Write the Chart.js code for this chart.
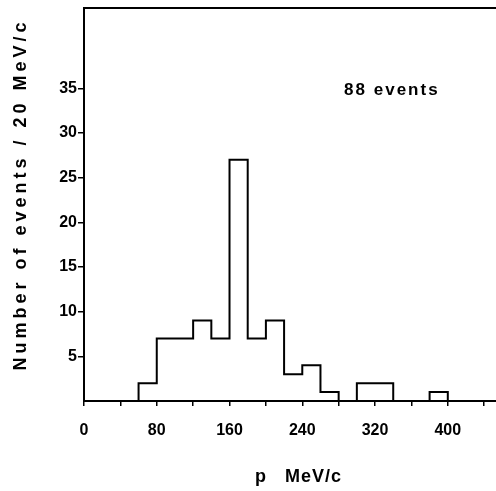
<!DOCTYPE html>
<html lang="en">
<head>
    <meta charset="UTF-8">
    <title>Momentum spectrum</title>
    <script src="https://cdn.jsdelivr.net/npm/chart.js"></script>
    <style>
        body { margin: 0; background: #fff; }
        canvas { display: block; }
    </style>
</head>
<body>
    <canvas id="histChart" width="496" height="491"></canvas>

    <script>
        // histogram: 20 MeV/c bins, left edge of each bin
        const binStarts = [60, 80, 100, 120, 140, 160, 180, 200, 220, 240, 260, 280, 300, 320, 340, 360, 380];
        const counts    = [2, 7, 7, 9, 7, 27, 7, 9, 3, 4, 1, 0, 2, 2, 0, 0, 1];
        const binWidth = 20;

        const xTickValues  = [0, 40, 80, 120, 160, 200, 240, 280, 320, 360, 400, 440];
        const xLabelValues = [0, 80, 160, 240, 320, 400];
        const yTickValues  = [5, 10, 15, 20, 25, 30, 35];

        const yTitle = 'Number of events / 20 MeV/c';
        const xTitle = 'p   MeV/c';
        const note = '88 events';

        const FONT = "'Liberation Sans', Arial, sans-serif";

        // outline points for the stepped line
        const points = [{ x: binStarts[0], y: 0 }];
        binStarts.forEach((x, i) => points.push({ x: x, y: counts[i] }));
        points.push({ x: binStarts[binStarts.length - 1] + binWidth, y: 0 });

        // extra texts drawn with letter spacing
        const textPlugin = {
            id: 'texts',
            afterDraw(chart) {
                const ctx = chart.ctx;
                const xs = chart.scales.x, ys = chart.scales.y;
                const area = chart.chartArea;
                ctx.save();
                ctx.fillStyle = '#000';

                // y title
                ctx.font = 'bold 18px ' + FONT;
                ctx.letterSpacing = '4px';
                ctx.textAlign = 'center';
                ctx.textBaseline = 'middle';
                ctx.save();
                ctx.translate(21, (area.top + area.bottom) / 2 - 10);
                ctx.rotate(-Math.PI / 2);
                ctx.fillText(yTitle, 0, 0);
                ctx.restore();

                // x title
                ctx.letterSpacing = '1px';
                ctx.textAlign = 'left';
                ctx.fillText(xTitle, xs.getPixelForValue(188), 477);

                // event count
                ctx.font = 'bold 17px ' + FONT;
                ctx.letterSpacing = '2px';
                ctx.fillText(note, xs.getPixelForValue(286), ys.getPixelForValue(34.8));
                ctx.restore();
            }
        };

        new Chart(document.getElementById('histChart').getContext('2d'), {
            type: 'line',
            data: {
                datasets: [{
                    data: points,
                    stepped: 'before',
                    borderColor: '#000',
                    borderWidth: 2,
                    pointRadius: 0,
                    fill: false
                }]
            },
            options: {
                responsive: false,
                animation: false,
                layout: { padding: { top: 8, right: 0, left: 0, bottom: 0 } },
                plugins: { legend: { display: false }, tooltip: { enabled: false } },
                scales: {
                    x: {
                        type: 'linear',
                        min: 0,
                        max: 453,
                        afterBuildTicks: s => { s.ticks = xTickValues.map(v => ({ value: v })); },
                        afterFit: s => { s.height = 90; s.paddingRight = 0; },
                        border: { color: '#000', width: 2 },
                        grid: { drawOnChartArea: false, color: '#000', lineWidth: 1.5, tickLength: 5 },
                        ticks: {
                            color: '#000',
                            padding: 15,
                            maxRotation: 0,
                            autoSkip: false,
                            font: { family: FONT, size: 16, weight: 'bold' },
                            callback: v => xLabelValues.includes(v) ? String(v) : ''
                        }
                    },
                    x2: {
                        type: 'linear',
                        position: 'top',
                        min: 0,
                        max: 453,
                        afterFit: s => { s.height = 0; },
                        border: { color: '#000', width: 2 },
                        grid: { display: false },
                        ticks: { display: false }
                    },
                    y: {
                        min: 0,
                        max: 44,
                        afterBuildTicks: s => { s.ticks = yTickValues.map(v => ({ value: v })); },
                        afterFit: s => { s.width = 84; s.paddingTop = 0; s.paddingBottom = 0; },
                        border: { color: '#000', width: 2 },
                        grid: { drawOnChartArea: false, color: '#000', lineWidth: 1.5, tickLength: 6 },
                        ticks: {
                            color: '#000',
                            padding: 1,
                            font: { family: FONT, size: 16, weight: 'bold' }
                        }
                    }
                }
            },
            plugins: [textPlugin]
        });
    </script>
</body>
</html>
